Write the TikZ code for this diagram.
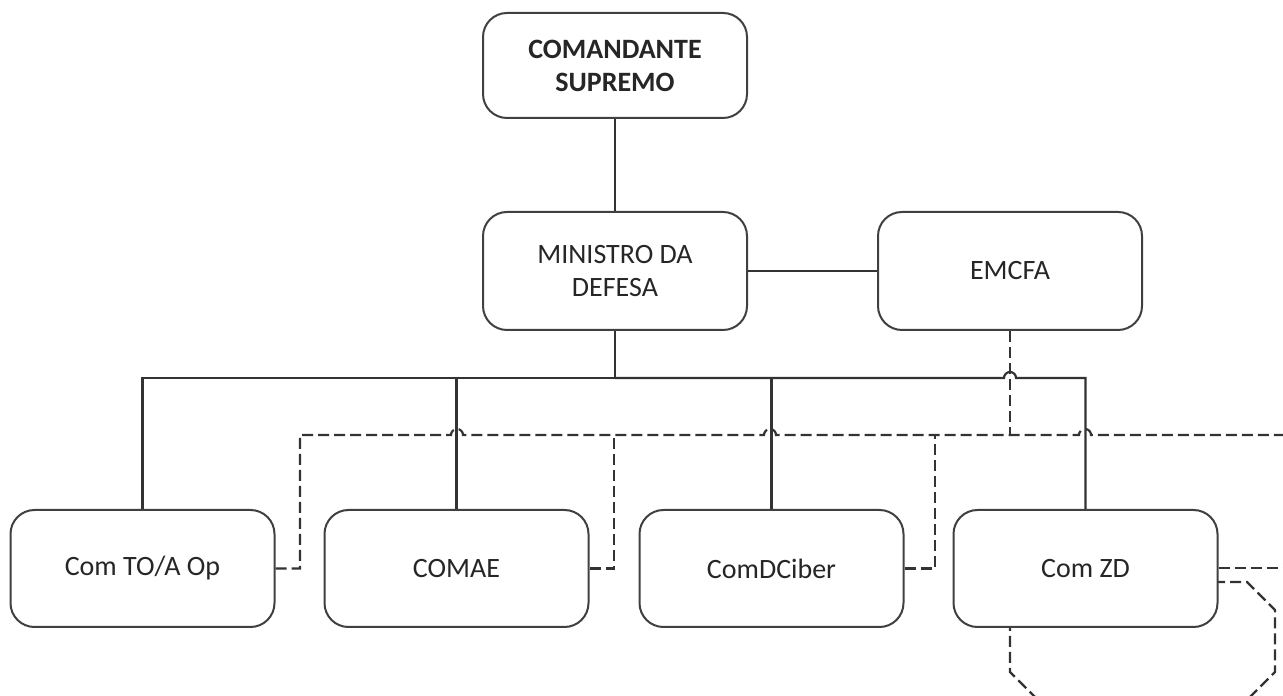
\documentclass[tikz,border=0pt]{standalone}
\usepackage{fontspec}
\setmainfont{Carlito}
\usetikzlibrary{positioning}

\begin{document}
\begin{tikzpicture}[x=0.5pt,y=0.5pt,
  box/.style={rectangle,rounded corners=12pt,draw=black!75,line width=1pt,fill=white,
    minimum width=132pt,minimum height=58.5pt,align=center,
    font=\fontsize{14}{16.5}\selectfont,text=black!85},
  link/.style={draw=black!80,line width=1.1pt},
  dlink/.style={link,dash pattern=on 5.5pt off 2.5pt}]
  \path[use as bounding box] (0,0) rectangle (1283,695);
  \clip (0,0) rectangle (1283,695);
  % dashed outline under Com ZD
  \draw[dlink] (1038,113) -- (1247,113) -- (1275,85) -- (1275,23) -- (1247,-5)
    -- (1038,-5) -- (1010,23) -- (1010,85) -- cycle;
  \node[box, minimum height=52.5pt, font=\fontsize{14}{16.5}\selectfont\bfseries] (cs) at (615,629.5) {COMANDANTE\\SUPREMO};
  \node[box, minimum height=59pt] (md) [below=46pt of cs] {MINISTRO DA\\DEFESA};
  \node[box, minimum height=59pt] (emcfa) [right=64.5pt of md] {EMCFA};
  \node[box] (toa) at (142.5,126.5) {Com TO/A Op};
  \node[box] (comae) [right=24pt of toa] {COMAE};
  \node[box] (comdciber) [right=24.5pt of comae] {ComDCiber};
  \node[box] (comzd) [right=24pt of comdciber] {Com ZD};
  \coordinate (bus) at (615,317);
  \coordinate (dl) at (300,260);
  \coordinate (dr) at (1283,260);
  \coordinate (d2) at (614,260);
  \coordinate (d3) at (935,260);
  \coordinate (zr) at (1283,127);
  % solid lines
  \draw[link] (cs) -- (md);
  \draw[link] (md) -- (emcfa);
  \draw[link] (md.south) -- (bus);
  \draw[link] (bus) -| (toa.north);
  \draw[link] (bus) -| (comae.north);
  \draw[link] (bus) -| (comdciber.north);
  \draw[link] (bus) -- ++(389,0) arc[start angle=180,end angle=0,radius=3pt] -| (comzd.north);
  % dashed lines
  \draw[dlink] (emcfa.south) -- (1010,260);
  \draw[dlink] (toa.east) -| (dl) -- ++(151,0) arc[start angle=180,end angle=0,radius=3pt]
    -- ++(301,0) arc[start angle=180,end angle=0,radius=3pt]
    -- ++(303,0) arc[start angle=180,end angle=0,radius=3pt] -- (dr);
  \draw[dlink] (comae.east) -| (d2);
  \draw[dlink] (comdciber.east) -| (d3);
  \draw[dlink] (comzd.east |- zr) -- (zr);
\end{tikzpicture}
\end{document}
